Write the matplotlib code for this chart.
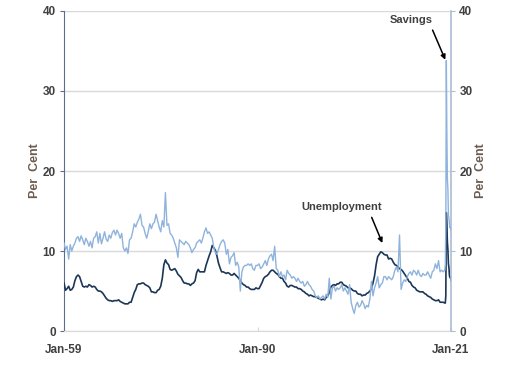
import numpy as np
import pandas as pd
import matplotlib
matplotlib.use("Agg")
import matplotlib.pyplot as plt
import matplotlib.dates as mdates

# quarterly 1959Q1-2019Q4, then monthly Jan-2020..Jan-2021
quarters = pd.date_range("1959-01-01", "2019-10-01", freq="QS")
months = pd.date_range("2020-01-01", "2021-01-01", freq="MS")
dates = quarters.append(months)

unemployment = [
    6.0, 5.1, 5.3, 5.6,  5.1, 5.2, 5.5, 6.3,  6.8, 7.0, 6.8, 6.2,
    5.6, 5.5, 5.6, 5.5,  5.8, 5.7, 5.5, 5.6,  5.5, 5.2, 5.0, 5.0,
    4.9, 4.7, 4.4, 4.1,  3.9, 3.8, 3.8, 3.7,  3.8, 3.8, 3.8, 3.9,
    3.7, 3.6, 3.5, 3.4,  3.4, 3.4, 3.6, 3.6,  4.2, 4.8, 5.2, 5.8,
    5.9, 5.9, 6.0, 6.0,  5.8, 5.7, 5.6, 5.4,  4.9, 4.9, 4.8, 4.8,
    5.1, 5.2, 5.6, 6.6,  8.3, 8.9, 8.5, 8.3,  7.7, 7.6, 7.7, 7.8,
    7.5, 7.1, 6.9, 6.7,  6.3, 6.0, 6.0, 5.9,  5.9, 5.7, 5.9, 6.0,
    6.3, 7.3, 7.7, 7.4,  7.4, 7.4, 7.4, 8.2,  8.8, 9.4, 9.9, 10.7,
    10.4, 10.1, 9.4, 8.5, 7.9, 7.4, 7.4, 7.3, 7.2, 7.3, 7.2, 7.0,
    7.0, 7.2, 7.0, 6.8,  6.6, 6.3, 6.0, 5.8,  5.7, 5.5, 5.5, 5.3,
    5.2, 5.2, 5.2, 5.4,  5.3, 5.3, 5.7, 6.1,  6.6, 6.8, 6.9, 7.1,
    7.4, 7.6, 7.6, 7.4,  7.2, 7.1, 6.8, 6.6,  6.6, 6.2, 6.0, 5.6,
    5.5, 5.7, 5.7, 5.6,  5.5, 5.5, 5.3, 5.3,  5.2, 5.0, 4.9, 4.7,
    4.6, 4.4, 4.5, 4.4,  4.3, 4.3, 4.2, 4.1,  4.0, 3.9, 4.0, 3.9,
    4.2, 4.4, 4.8, 5.5,  5.7, 5.8, 5.7, 5.9,  5.9, 6.1, 6.1, 5.8,
    5.7, 5.6, 5.4, 5.4,  5.3, 5.1, 5.0, 5.0,  4.7, 4.6, 4.6, 4.4,
    4.5, 4.5, 4.7, 4.8,  5.0, 5.3, 6.0, 6.9,  8.3, 9.3, 9.6, 9.9,
    9.8, 9.6, 9.5, 9.5,  9.0, 9.1, 9.0, 8.6,  8.3, 8.2, 8.0, 7.8,
    7.7, 7.5, 7.2, 6.9,  6.6, 6.2, 6.1, 5.7,  5.5, 5.4, 5.1, 5.0,
    4.9, 4.9, 4.9, 4.7,  4.6, 4.4, 4.3, 4.2,  4.0, 3.9, 3.8, 3.8,
    3.9, 3.6, 3.6, 3.6,
    3.5, 3.5, 4.4, 14.8, 13.3, 11.1, 10.2, 8.4, 7.9, 6.9, 6.7, 6.7, 6.3,
]

savings = [
    11.0, 10.2, 10.6, 9.0,  10.8, 10.0, 10.6, 11.0,  11.6, 11.8, 11.2, 11.9,
    11.4, 10.8, 11.6, 11.2,  10.6, 11.2, 10.4, 11.6,  11.8, 12.4, 11.0, 12.2,
    10.9, 11.6, 12.4, 11.5,  11.2, 12.0, 11.6, 12.3,  12.6, 12.0, 12.6, 12.2,
    11.6, 12.2, 10.4, 10.0,  10.4, 9.7, 11.4, 11.6,  12.4, 13.4, 13.0, 13.6,
    14.0, 14.6, 13.2, 13.0,  12.2, 11.6, 12.4, 13.4,  12.8, 13.4, 13.6, 14.6,
    13.8, 13.0, 12.4, 13.8,  13.0, 17.3, 13.2, 13.4,  12.2, 12.0, 11.6, 11.0,
    10.4, 9.2, 11.4, 11.2,  11.0, 10.8, 11.2, 11.0,  10.8, 10.4, 9.8, 10.2,
    10.4, 11.0, 11.2, 11.4,  11.0, 11.6, 12.4, 12.9,  12.2, 12.4, 12.0, 11.6,
    10.4, 9.8, 9.6, 10.2,  10.8, 11.2, 11.4, 11.0,  9.6, 10.2, 8.4, 9.2,
    9.4, 9.8, 8.2, 8.6,  8.0, 5.0, 7.4, 8.0,  8.2, 8.2, 8.4, 8.2,
    8.4, 7.8, 7.6, 8.2,  8.2, 8.4, 7.8, 8.0,  8.4, 8.8, 8.2, 9.0,
    9.4, 9.6, 8.8, 10.6,  7.8, 7.6, 6.8, 7.4,  6.8, 7.0, 6.4, 7.6,
    7.2, 7.0, 6.6, 6.8,  6.6, 6.2, 6.6, 6.2,  6.0, 6.2, 5.6, 5.8,
    6.2, 5.8, 5.6, 5.2,  5.0, 4.4, 4.2, 4.4,  4.0, 4.2, 4.4, 4.0,
    4.6, 4.2, 6.6, 4.0,  5.4, 5.6, 5.0, 5.4,  5.2, 5.4, 5.8, 5.0,
    5.4, 5.0, 4.6, 5.8,  3.6, 2.8, 2.2, 3.2,  3.6, 3.0, 3.2, 3.8,
    3.4, 2.8, 3.2, 3.0,  4.0, 6.2, 4.4, 5.4,  6.0, 6.8, 5.4, 5.8,
    6.0, 6.8, 6.8, 6.4,  6.8, 6.6, 6.4, 6.8,  7.6, 8.0, 7.4, 12.0,
    5.2, 6.0, 6.4, 6.2,  6.8, 7.2, 7.4, 7.0,  7.6, 7.4, 7.0, 7.6,
    7.0, 6.8, 7.2, 7.0,  7.0, 7.4, 7.0, 6.6,  7.4, 7.6, 8.4, 7.8,
    8.8, 7.4, 7.6, 7.4,
    7.6, 8.3, 12.8, 33.8, 24.9, 19.0, 17.8, 14.5, 14.1, 13.4, 12.9, 13.0, 12.6,
]

x_ticks = ["1959-01-01", "1990-01-01", "2021-01-01"]

plt.rcParams["font.family"] = ["Liberation Sans", "DejaVu Sans"]
fig = plt.figure(figsize=(5.14, 3.65), dpi=100)
ax = fig.add_axes([0.1245, 0.093, 0.753, 0.877])
ax2 = ax.twinx()

label_col = "#404040"
axis_lab_col = "#6b5b4f"

ax.plot(dates, unemployment, color="#1c3657", lw=1.2, zorder=3)
ax2.plot(dates, savings, color="#8fb3dc", lw=1.0, zorder=4)

for a in (ax, ax2):
    a.set_ylim(0, 40)
    a.set_yticks([0, 10, 20, 30, 40])
    a.set_xlim(pd.Timestamp("1959-01-01"), pd.Timestamp("2021-01-01"))
    a.tick_params(axis="y", labelsize=8.5, labelcolor=label_col, length=3, width=0.8, pad=3)
    for lab in a.get_yticklabels():
        lab.set_fontweight("bold")
    a.spines["top"].set_visible(False)

ax.grid(axis="y", color="#d9d9d9", lw=1.0)
ax.set_axisbelow(True)
ax.spines["left"].set_color("#5a6f90")
ax.spines["right"].set_visible(False)
ax.spines["bottom"].set_color("#d9d9d9")
ax.tick_params(axis="y", color="#5a6f90")
ax2.spines["left"].set_visible(False)
ax2.spines["bottom"].set_visible(False)
ax2.spines["right"].set_color("#a9bdd6")
ax2.spines["right"].set_linewidth(1.2)
ax2.tick_params(axis="y", color="#a9bdd6")

ax.set_xticks([pd.Timestamp(d) for d in x_ticks])
ax.xaxis.set_major_formatter(mdates.DateFormatter("%b-%y"))
ax.tick_params(axis="x", labelsize=8.5, labelcolor=label_col, direction="in",
               length=3, color="#d9d9d9", pad=9)
for lab in ax.get_xticklabels():
    lab.set_fontweight("bold")

ax.set_ylabel("Per  Cent", fontsize=9, fontweight="bold", color=axis_lab_col, labelpad=1)
ax2.set_ylabel("Per  Cent", fontsize=9, fontweight="bold", color=axis_lab_col, labelpad=2)

ax2.annotate("Savings", xy=(pd.Timestamp("2020-02-01"), 33.9),
             xytext=(pd.Timestamp("2014-08-01"), 38.9),
             fontsize=8, fontweight="bold", color=label_col, ha="center", va="center",
             arrowprops=dict(arrowstyle="-|>", color="black", lw=1.1, mutation_scale=7,
                             shrinkA=2, shrinkB=0, relpos=(0.95, 0.0)), zorder=6)
ax2.annotate("Unemployment", xy=(pd.Timestamp("2010-01-01"), 11.0),
             xytext=(pd.Timestamp("2003-06-01"), 15.5),
             fontsize=8, fontweight="bold", color=label_col, ha="center", va="center",
             arrowprops=dict(arrowstyle="-|>", color="black", lw=1.1, mutation_scale=7,
                             shrinkA=2, shrinkB=0, relpos=(0.85, 0.0)), zorder=6)

fig.savefig("out.png", dpi=100)
